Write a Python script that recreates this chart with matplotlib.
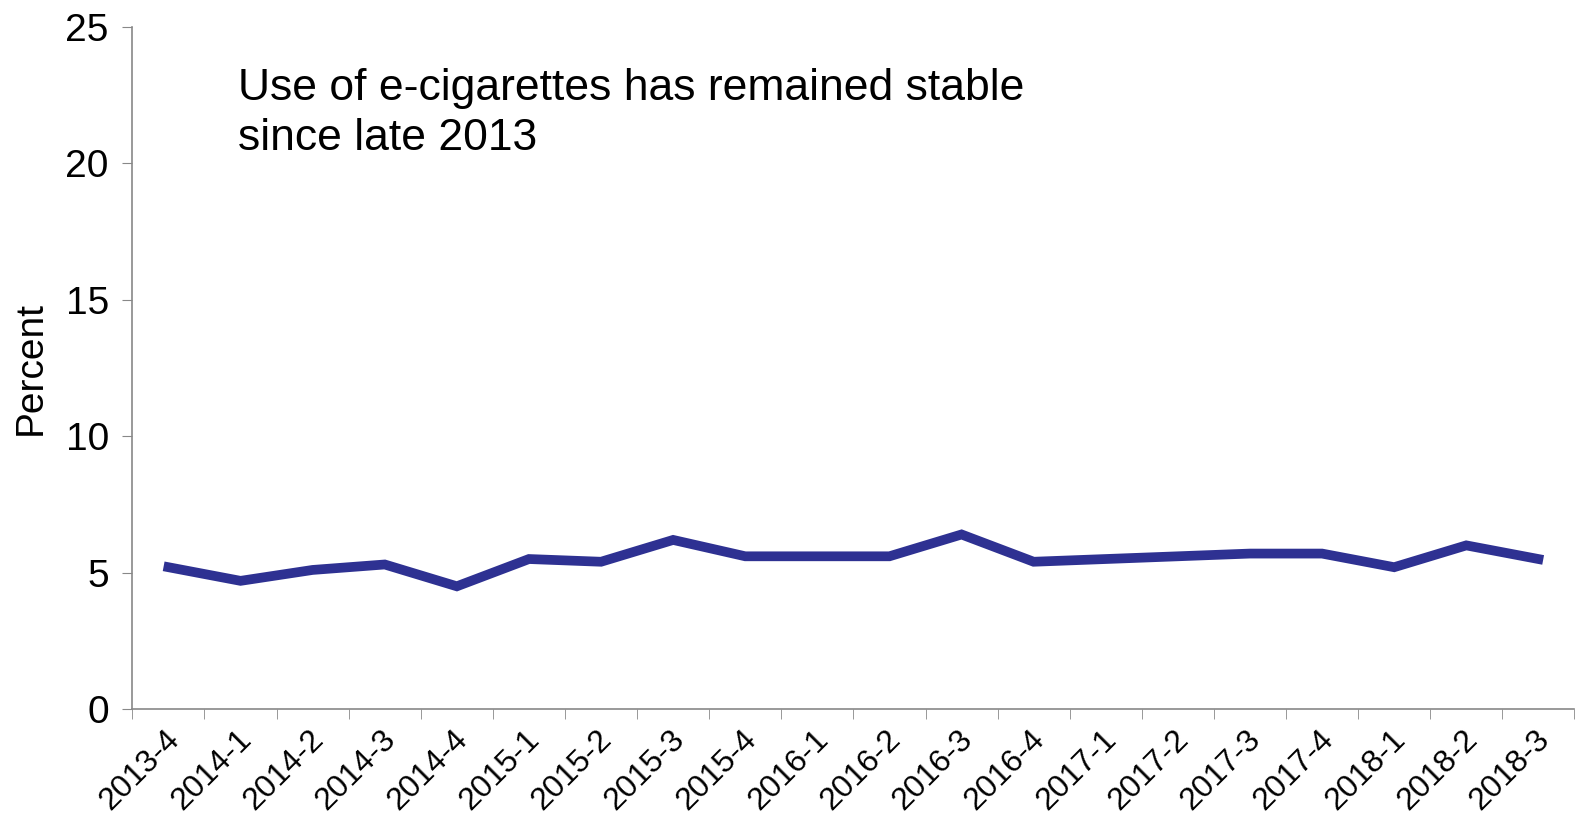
import numpy as np
import matplotlib
matplotlib.use("Agg")
import matplotlib.pyplot as plt
import matplotlib.transforms as mtransforms

quarters = ["2013-4", "2014-1", "2014-2", "2014-3", "2014-4",
            "2015-1", "2015-2", "2015-3", "2015-4",
            "2016-1", "2016-2", "2016-3", "2016-4",
            "2017-1", "2017-2", "2017-3", "2017-4",
            "2018-1", "2018-2", "2018-3"]
ecig_pct = [5.2, 4.7, 5.1, 5.3, 4.5,
            5.5, 5.4, 6.2, 5.6,
            5.6, 5.6, 6.4, 5.4,
            5.5, 5.6, 5.7, 5.7,
            5.2, 6.0, 5.5]
y_ticks = [0, 5, 10, 15, 20, 25]

plt.rcParams['font.family'] = ['Liberation Sans', 'DejaVu Sans']

fig = plt.figure(figsize=(15.76, 8.16), dpi=100)
ax = fig.add_axes([0.084, 0.131, 0.915, 0.836])

x = np.arange(len(quarters))
ax.plot(x, ecig_pct, color='#2E3192', lw=7, solid_joinstyle='miter')

ax.set_xlim(-0.5, len(quarters) - 0.5)
ax.set_ylim(0, 25)
ax.set_yticks(y_ticks)
ax.tick_params(axis='y', labelsize=28, length=7, color='#888888', direction='out', pad=10)

# category ticks sit between categories, labels at the centre
ax.set_xticks(x)
ax.set_xticklabels(quarters, rotation=45, ha='right', va='top', rotation_mode='anchor', fontsize=23)
ax.tick_params(axis='x', which='major', length=0, pad=11)
ax.set_xticks(np.arange(-0.5, len(quarters)), minor=True)
ax.tick_params(axis='x', which='minor', length=7, color='#888888', direction='out')
shift = mtransforms.ScaledTranslation(-4 / 100, 0, fig.dpi_scale_trans)
for lab in ax.get_xticklabels():
    lab.set_transform(lab.get_transform() + shift)

for s in ['top', 'right']:
    ax.spines[s].set_visible(False)
for s in ['left', 'bottom']:
    ax.spines[s].set_color('#888888')
    ax.spines[s].set_linewidth(1.2)

ax.set_ylabel('Percent', fontsize=28)
ax.yaxis.set_label_coords(-0.058, 0.5)

fig.text(0.151, 0.917, 'Use of e-cigarettes has remained stable\nsince late 2013',
         fontsize=32, va='top', ha='left', linespacing=1.3)

fig.savefig('out.png', dpi=100)
